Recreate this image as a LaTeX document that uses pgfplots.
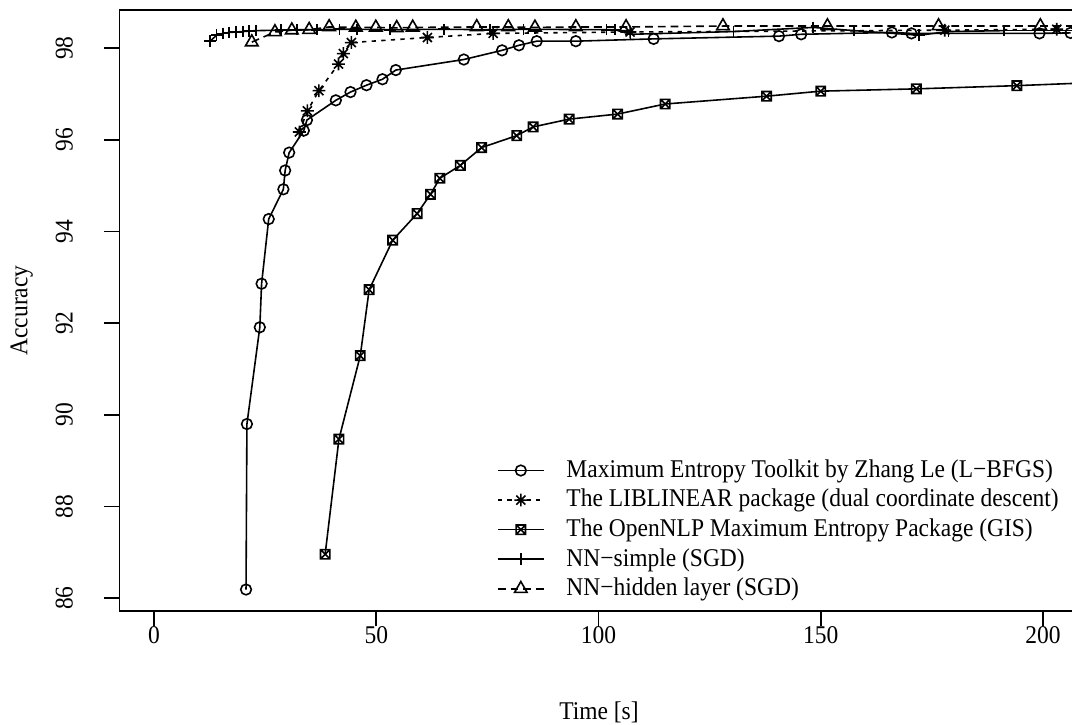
\documentclass[border=0pt]{standalone}
\usepackage{pgfplots}
\pgfplotsset{compat=1.18}
\usepackage{fontspec}
\setmainfont{Liberation Serif}[FakeStretch=0.92]

% R pch 8: asterisk (plus and cross)
\pgfdeclareplotmark{rstar}{%
  \pgfpathmoveto{\pgfqpoint{-\pgfplotmarksize}{0pt}}%
  \pgfpathlineto{\pgfqpoint{\pgfplotmarksize}{0pt}}%
  \pgfpathmoveto{\pgfqpoint{0pt}{-\pgfplotmarksize}}%
  \pgfpathlineto{\pgfqpoint{0pt}{\pgfplotmarksize}}%
  \pgfpathmoveto{\pgfqpoint{-0.7071\pgfplotmarksize}{-0.7071\pgfplotmarksize}}%
  \pgfpathlineto{\pgfqpoint{0.7071\pgfplotmarksize}{0.7071\pgfplotmarksize}}%
  \pgfpathmoveto{\pgfqpoint{-0.7071\pgfplotmarksize}{0.7071\pgfplotmarksize}}%
  \pgfpathlineto{\pgfqpoint{0.7071\pgfplotmarksize}{-0.7071\pgfplotmarksize}}%
  \pgfusepathqstroke}
% R pch 7: square with cross
\pgfdeclareplotmark{rsqx}{%
  \pgfpathrectangle{\pgfqpoint{-\pgfplotmarksize}{-\pgfplotmarksize}}{\pgfqpoint{2\pgfplotmarksize}{2\pgfplotmarksize}}%
  \pgfpathmoveto{\pgfqpoint{-\pgfplotmarksize}{-\pgfplotmarksize}}%
  \pgfpathlineto{\pgfqpoint{\pgfplotmarksize}{\pgfplotmarksize}}%
  \pgfpathmoveto{\pgfqpoint{-\pgfplotmarksize}{\pgfplotmarksize}}%
  \pgfpathlineto{\pgfqpoint{\pgfplotmarksize}{-\pgfplotmarksize}}%
  \pgfusepathqstroke}

\begin{document}
\begin{tikzpicture}
\useasboundingbox (-56.2pt,-53.1pt) rectangle (447.8pt,287.3pt);
\begin{axis}[
  at={(0pt,0pt)}, anchor=south west, scale only axis,
  width=449pt, height=282.6pt,
  xmin=-7.76, xmax=207.1, ymin=85.72, ymax=98.83,
  font=\fontsize{12}{14.4}\selectfont,
  /pgf/number format/assume math mode=true,
  xtick={0,50,100,150,200}, ytick={86,88,90,92,94,96,98},
  xtick pos=bottom, ytick pos=left,
  tick align=outside, major tick length=7.2pt,
  every tick/.style={black, line width=0.75pt},
  axis line style={line width=0.75pt},
  xticklabel style={anchor=base},
  xticklabel shift=8pt,
  yticklabel style={rotate=90, anchor=base},
  yticklabel shift=14.8pt,
  xlabel={Time [s]}, ylabel={Accuracy},
  every axis x label/.style={at={(axis description cs:0.502,-0.1797)}, anchor=base},
  every axis y label/.style={at={(axis description cs:-0.0965,0.5)}, rotate=90, anchor=base},
  legend style={draw=none, fill=none, at={(axis description cs:0.3953,0.256)},
    anchor=north west, inner sep=0pt, outer sep=0pt, row sep=1.4pt, column sep=9.8pt,
    nodes={inner sep=0.5pt, text height=9pt, text depth=2.5pt},
    font=\fontsize{12}{14.4}\selectfont},
  legend cell align=left,
  legend image code/.code={\draw[mark repeat=2,mark phase=2,#1] plot coordinates {(0pt,0pt) (10.8pt,0pt) (21.6pt,0pt)};},
]
\addplot[black, line width=0.75pt, mark=o, mark size=2.5pt] coordinates {
 (20.7,86.19) (20.9,89.80) (23.8,91.91) (24.2,92.86) (25.8,94.27) (29.1,94.92)
 (29.5,95.33) (30.4,95.72) (33.7,96.20) (34.4,96.43) (40.9,96.86) (44.2,97.04)
 (47.8,97.19) (51.4,97.32) (54.4,97.52) (69.7,97.75) (78.3,97.95) (82.1,98.06)
 (86.1,98.15) (94.9,98.15) (112.4,98.20) (140.6,98.26) (145.6,98.30) (166.0,98.34)
 (170.4,98.32) (199.2,98.32) (206.2,98.33)};
\addlegendentry{Maximum Entropy Toolkit by Zhang Le (L−BFGS)}
\addplot[black, line width=0.75pt, dash pattern=on 2pt off 2.5pt, mark=rstar, mark size=3pt, mark options={solid}] coordinates {
 (32.7,96.17) (34.5,96.63) (37.1,97.07) (41.5,97.65) (42.6,97.88) (44.4,98.12)
 (61.5,98.23) (76.3,98.32) (107.1,98.35) (177.9,98.39) (203.1,98.41)};
\addlegendentry{The LIBLINEAR package (dual coordinate descent)}
\addplot[black, line width=0.75pt, mark=rsqx, mark size=2.2pt] coordinates {
 (38.5,86.96) (41.6,89.47) (46.4,91.29) (48.4,92.73) (53.7,93.81) (59.2,94.39)
 (62.2,94.81) (64.3,95.16) (68.9,95.44) (73.7,95.83) (81.6,96.09) (85.3,96.28)
 (93.4,96.45) (104.3,96.56) (115.0,96.78) (137.8,96.95) (150.0,97.06) (171.5,97.11)
 (194.1,97.18)};
\addlegendentry{The OpenNLP Maximum Entropy Package (GIS)}
\addplot[black, line width=0.75pt, mark=+, mark size=2.7pt] coordinates {
 (12.6,98.15) (14.1,98.28) (15.5,98.32) (16.9,98.34) (18.4,98.35) (20.0,98.36)
 (21.4,98.37) (22.9,98.38) (28.5,98.39) (32.1,98.40) (36.6,98.40) (41.7,98.41)
 (45.6,98.41) (53.1,98.40) (65.2,98.41) (75.6,98.40) (83.1,98.41) (101.8,98.40)
 (103.7,98.40) (107.2,98.30) (130.4,98.36) (148.3,98.45) (157.5,98.38) (172.1,98.28)
 (178.7,98.36) (191.2,98.38)};
\addlegendentry{NN−simple (SGD)}
\addplot[black, line width=0.75pt, dash pattern=on 3.7pt off 2.3pt, mark=triangle, mark size=3.4pt, mark options={solid}] coordinates {
 (22.0,98.13) (27.2,98.35) (31.0,98.39) (34.9,98.40) (39.4,98.46) (45.4,98.45)
 (49.9,98.45) (54.6,98.44) (58.2,98.45) (72.6,98.46) (79.7,98.46) (85.7,98.45)
 (94.9,98.46) (106.2,98.46) (128.0,98.48) (151.5,98.48) (176.5,98.48) (199.4,98.48)};
\addlegendentry{NN−hidden layer (SGD)}
% line segments running on past the right edge of the visible area
\addplot[forget plot, black, line width=0.75pt] coordinates {(194.1,97.18) (207.1,97.23)};
\addplot[forget plot, black, line width=0.75pt] coordinates {(191.2,98.38) (207.1,98.38)};
\addplot[forget plot, black, line width=0.75pt, dash pattern=on 3.7pt off 2.3pt] coordinates {(199.4,98.48) (207.1,98.48)};
\end{axis}
\end{tikzpicture}
\end{document}
